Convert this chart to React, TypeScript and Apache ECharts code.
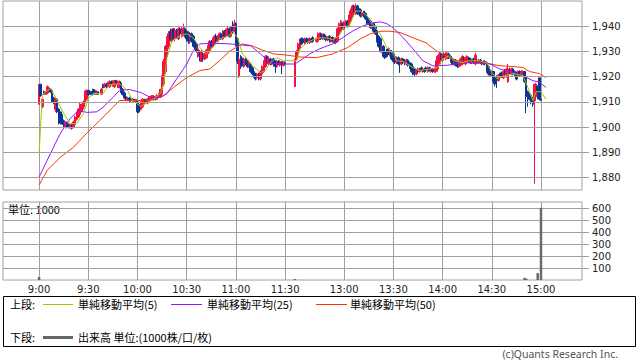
import React, { useEffect, useRef } from 'react';
import * as echarts from 'echarts';

// ---------- data ----------
const priceTicks = [1880, 1890, 1900, 1910, 1920, 1930, 1940];
const volumeTicks = [100, 200, 300, 400, 500, 600];
const timeTicks = ['9:00', '9:30', '10:00', '10:30', '11:00', '11:30', '13:00', '13:30', '14:00', '14:30', '15:00'];

// [time, open, close, low, high]
const candles: [string, number, number, number, number][] = [
  ['9:00', 1909, 1916, 1909, 1917], ['9:01', 1917, 1912.5, 1912, 1917], ['9:02', 1908, 1911, 1907.5, 1911],
  ['9:03', 1914, 1913, 1913, 1914.5], ['9:04', 1913, 1914, 1913, 1914], ['9:05', 1913.5, 1916, 1913, 1916.5],
  ['9:06', 1914, 1915.5, 1914, 1916], ['9:07', 1915, 1914, 1913.5, 1915.5], ['9:08', 1914.5, 1910, 1909.5, 1914.5],
  ['9:09', 1911.5, 1909.5, 1909, 1912], ['9:10', 1907, 1911, 1906, 1912], ['9:11', 1911, 1906, 1905.5, 1911.5],
  ['9:12', 1907, 1902, 1901, 1907.5], ['9:13', 1906, 1901.5, 1901, 1906], ['9:14', 1905, 1902, 1901, 1905.5],
  ['9:15', 1902.5, 1901, 1900, 1903], ['9:16', 1900, 1902, 1899.5, 1902], ['9:17', 1902, 1900, 1899.5, 1902],
  ['9:18', 1901, 1900, 1899.5, 1901.5], ['9:19', 1899.5, 1901, 1899.5, 1901], ['9:20', 1901, 1899.5, 1899, 1901],
  ['9:21', 1900, 1902, 1899.5, 1902.5], ['9:22', 1901, 1904, 1900, 1904.5], ['9:23', 1903, 1906, 1902.5, 1906],
  ['9:24', 1904, 1907, 1903.5, 1907.5], ['9:25', 1905, 1909, 1904.5, 1909.5], ['9:26', 1906, 1909, 1906, 1909],
  ['9:27', 1908, 1910, 1907, 1910.5], ['9:28', 1909.5, 1914, 1909, 1914.5], ['9:29', 1911, 1914.5, 1910.5, 1915],
  ['9:30', 1914.5, 1913, 1912.5, 1914.5], ['9:31', 1914, 1913, 1913, 1914.5], ['9:32', 1914, 1913, 1913, 1914],
  ['9:33', 1915, 1913, 1912.5, 1915], ['9:34', 1914.5, 1913, 1913, 1915], ['9:35', 1913, 1914, 1913, 1914.5],
  ['9:36', 1914, 1913, 1913, 1914], ['9:38', 1913, 1915, 1913, 1915.5], ['9:39', 1917, 1915.5, 1915.5, 1917],
  ['9:40', 1916, 1917, 1915.5, 1917.5], ['9:41', 1917, 1916, 1915.5, 1917.5], ['9:42', 1916, 1917.5, 1916, 1918],
  ['9:43', 1916, 1918, 1915.5, 1918.5], ['9:44', 1918, 1917, 1916.5, 1918.5], ['9:45', 1916.5, 1918, 1916, 1918.5],
  ['9:46', 1916, 1918.5, 1915.5, 1918.5], ['9:47', 1918.5, 1917, 1916.5, 1918.5], ['9:48', 1916, 1918, 1915.5, 1918.5],
  ['9:49', 1915.5, 1918, 1915.5, 1918.5], ['9:50', 1917.5, 1914, 1913.5, 1918], ['9:51', 1915, 1913, 1912.5, 1915.5],
  ['9:52', 1913.5, 1911.5, 1911, 1914], ['9:53', 1912, 1911, 1910.5, 1912.5], ['9:54', 1910.5, 1911.5, 1910.5, 1912],
  ['9:55', 1911.5, 1910.5, 1910, 1912], ['9:56', 1911, 1910.5, 1910, 1911.5], ['9:57', 1910.5, 1911, 1910, 1911.5],
  ['9:58', 1911, 1910, 1909.5, 1911], ['9:59', 1910, 1911, 1910, 1911], ['10:00', 1910, 1906, 1905.5, 1910],
  ['10:01', 1909, 1906, 1905.5, 1909.5], ['10:02', 1907, 1910, 1906.5, 1910.5], ['10:03', 1908, 1911, 1907.5, 1911.5],
  ['10:04', 1909, 1911, 1908.5, 1911], ['10:05', 1911, 1910, 1909.5, 1911], ['10:06', 1909.5, 1911, 1909, 1911.5],
  ['10:07', 1910, 1912, 1910, 1912], ['10:08', 1910.5, 1912, 1910.5, 1912.5], ['10:09', 1911, 1912.5, 1910.5, 1912.5],
  ['10:10', 1912, 1911, 1910.5, 1912], ['10:11', 1911, 1912, 1910.5, 1912.5], ['10:12', 1911, 1912.5, 1911, 1913],
  ['10:13', 1912, 1913, 1911.5, 1913.5], ['10:14', 1912, 1915, 1911.5, 1915], ['10:15', 1913, 1920, 1912.5, 1920.5],
  ['10:16', 1917, 1926, 1916, 1927], ['10:17', 1922, 1932, 1921, 1932.5], ['10:18', 1928, 1935, 1927, 1936],
  ['10:19', 1932, 1937, 1931, 1938], ['10:20', 1938, 1935, 1934, 1939], ['10:21', 1934, 1938, 1933.5, 1939],
  ['10:22', 1939, 1935, 1934.5, 1939], ['10:23', 1935, 1938.5, 1934, 1939], ['10:24', 1938.5, 1936, 1935, 1939],
  ['10:25', 1935, 1939, 1934.5, 1939.5], ['10:26', 1939, 1937, 1936, 1939.5], ['10:27', 1936, 1939, 1935.5, 1940],
  ['10:28', 1937, 1939, 1936, 1941], ['10:29', 1939, 1936, 1935.5, 1939.5], ['10:30', 1938, 1935, 1934, 1938.5],
  ['10:31', 1937.5, 1934, 1933, 1938], ['10:32', 1934, 1937, 1933, 1937.5], ['10:33', 1937, 1934, 1933.5, 1937.5],
  ['10:34', 1936, 1932, 1931.5, 1936.5], ['10:35', 1934, 1931, 1930.5, 1934.5], ['10:36', 1933, 1930, 1929.5, 1933],
  ['10:37', 1928, 1931, 1927.5, 1931.5], ['10:38', 1930, 1927, 1926, 1930.5], ['10:39', 1926, 1930, 1926, 1930.5],
  ['10:40', 1929, 1927, 1926, 1929.5], ['10:41', 1927, 1929, 1926.5, 1929.5], ['10:42', 1927.5, 1930.5, 1927, 1931],
  ['10:43', 1929, 1932, 1928.5, 1932.5], ['10:44', 1930, 1934, 1929.5, 1934.5], ['10:45', 1934, 1932, 1931.5, 1934.5],
  ['10:46', 1932, 1935, 1931.5, 1935.5], ['10:47', 1933, 1936, 1932.5, 1936.5], ['10:48', 1936, 1934, 1933.5, 1937],
  ['10:49', 1934, 1936, 1933.5, 1936.5], ['10:50', 1935, 1937, 1934.5, 1937.5], ['10:51', 1937, 1935, 1934.5, 1937.5],
  ['10:52', 1935, 1938, 1934.5, 1938.5], ['10:53', 1938, 1936, 1935.5, 1938.5], ['10:54', 1936, 1938, 1935.5, 1939],
  ['10:55', 1937, 1939, 1936, 1940], ['10:56', 1939, 1936, 1935.5, 1939.5], ['10:57', 1936, 1939, 1935.5, 1940],
  ['10:58', 1940, 1938, 1937, 1942], ['10:59', 1938, 1941, 1937.5, 1942.5], ['11:00', 1941, 1933, 1932, 1941.5],
  ['11:01', 1935, 1926, 1925, 1935.5], ['11:02', 1920, 1927, 1919.5, 1928], ['11:03', 1928, 1924, 1923, 1928.5],
  ['11:04', 1927, 1924.5, 1924, 1927.5], ['11:05', 1924, 1927, 1923.5, 1927.5], ['11:06', 1927, 1925, 1924.5, 1927.5],
  ['11:07', 1926, 1924, 1923.5, 1926.5], ['11:08', 1924, 1925.5, 1923.5, 1926], ['11:09', 1925, 1922, 1921.5, 1925.5],
  ['11:10', 1923.5, 1921, 1920.5, 1924], ['11:11', 1922, 1920, 1919.5, 1922.5], ['11:12', 1921, 1919, 1918.5, 1921.5],
  ['11:13', 1919.5, 1921, 1919, 1921.5], ['11:14', 1921, 1919, 1918.5, 1921.5], ['11:15', 1919, 1922, 1918.5, 1922.5],
  ['11:16', 1921, 1924, 1920.5, 1924.5], ['11:17', 1922, 1926, 1921.5, 1926.5], ['11:18', 1924, 1928, 1923.5, 1928.5],
  ['11:19', 1928, 1926, 1925.5, 1928.5], ['11:20', 1925, 1927, 1924.5, 1928], ['11:21', 1927, 1925, 1924.5, 1927.5],
  ['11:22', 1925, 1926.5, 1924.5, 1927], ['11:23', 1927, 1925, 1924, 1927.5], ['11:24', 1926, 1924, 1921.5, 1926.5],
  ['11:25', 1924, 1926, 1923.5, 1926.5], ['11:26', 1926, 1925, 1924.5, 1926.5], ['11:27', 1924.5, 1926, 1924, 1926.5],
  ['11:28', 1926, 1924.5, 1921, 1926], ['11:29', 1924.5, 1925.5, 1924, 1926], ['11:30', 1925.5, 1925, 1924.5, 1926],
  ['12:30', 1916, 1927, 1916, 1927], ['12:31', 1927, 1930, 1926.5, 1930.5], ['12:32', 1929, 1933, 1928.5, 1933.5],
  ['12:33', 1931, 1935, 1930.5, 1935], ['12:34', 1935, 1933, 1932.5, 1935.5], ['12:35', 1935, 1933.5, 1933, 1935.5],
  ['12:36', 1933, 1935, 1932.5, 1935.5], ['12:37', 1935, 1934, 1933.5, 1935.5], ['12:38', 1935, 1933.5, 1933, 1935],
  ['12:39', 1933.5, 1935, 1933, 1935.5], ['12:40', 1935, 1934, 1933.5, 1935.5], ['12:41', 1935.5, 1934, 1933.5, 1936],
  ['12:43', 1934, 1935, 1933.5, 1935.5], ['12:44', 1934, 1937, 1933.5, 1937.5], ['12:45', 1935, 1937, 1934.5, 1937.5],
  ['12:46', 1937, 1935, 1934.5, 1937.5], ['12:47', 1935, 1937, 1934.5, 1937], ['12:48', 1936.5, 1935, 1934.5, 1937],
  ['12:49', 1936, 1934.5, 1934, 1936.5], ['12:50', 1934.5, 1935.5, 1934, 1936], ['12:51', 1936, 1934.5, 1933.5, 1936.5],
  ['12:52', 1934, 1935.5, 1933.5, 1936], ['12:53', 1935.5, 1934, 1933.5, 1936], ['12:54', 1933.5, 1935, 1933, 1935.5],
  ['12:55', 1935, 1933.5, 1933, 1935.5], ['12:56', 1934, 1939, 1933.5, 1939.5], ['12:57', 1937, 1941, 1936.5, 1941.5],
  ['12:58', 1938, 1942, 1937.5, 1942.5], ['12:59', 1941, 1939.5, 1939, 1941.5], ['13:00', 1939, 1941.5, 1938.5, 1942],
  ['13:01', 1940, 1942, 1939.5, 1942.5], ['13:02', 1942, 1940, 1939.5, 1942.5], ['13:03', 1940, 1944, 1939.5, 1944.5],
  ['13:04', 1942, 1946, 1941.5, 1947], ['13:05', 1944, 1948, 1943.5, 1948.5], ['13:06', 1948, 1946, 1945.5, 1948.5],
  ['13:07', 1945, 1948, 1944.5, 1949], ['13:08', 1948, 1945, 1944.5, 1948.5], ['13:09', 1947, 1945, 1944.5, 1947.5],
  ['13:10', 1946.5, 1944, 1943.5, 1947], ['13:11', 1944, 1945.5, 1943.5, 1946], ['13:12', 1946, 1944, 1943.5, 1946],
  ['13:13', 1945, 1943, 1942.5, 1945.5], ['13:14', 1944, 1941, 1940.5, 1944.5], ['13:15', 1943, 1941, 1940.5, 1943.5],
  ['13:16', 1942, 1939.5, 1939, 1942.5], ['13:17', 1939.5, 1941, 1939, 1941.5], ['13:18', 1941, 1938, 1937.5, 1941.5],
  ['13:19', 1940, 1937, 1936.5, 1940], ['13:20', 1938, 1934, 1933.5, 1938.5], ['13:21', 1936, 1932, 1931.5, 1936.5],
  ['13:22', 1935, 1930, 1929.5, 1935.5], ['13:23', 1930, 1932, 1929.5, 1932.5], ['13:24', 1932, 1928, 1927.5, 1932.5],
  ['13:25', 1930, 1927.5, 1927, 1930.5], ['13:26', 1930, 1928, 1927.5, 1931], ['13:27', 1931, 1929, 1928.5, 1931.5],
  ['13:28', 1928.5, 1930.5, 1928, 1931], ['13:29', 1930, 1927, 1926.5, 1930.5], ['13:30', 1929, 1926, 1925.5, 1929.5],
  ['13:31', 1928, 1926, 1925, 1928.5], ['13:32', 1925.5, 1927.5, 1925, 1928], ['13:33', 1927.5, 1925, 1924.5, 1928],
  ['13:34', 1927, 1925, 1921.5, 1927], ['13:35', 1925, 1927, 1924.5, 1927.5], ['13:36', 1927, 1925.5, 1925, 1927.5],
  ['13:37', 1926.5, 1925, 1924.5, 1927], ['13:38', 1925, 1926.5, 1924.5, 1927], ['13:39', 1926.5, 1924.5, 1924, 1927],
  ['13:40', 1925.5, 1923.5, 1923, 1926], ['13:41', 1925, 1922, 1921.5, 1925.5], ['13:42', 1924, 1921, 1920.5, 1924.5],
  ['13:43', 1923, 1921, 1920, 1923.5], ['13:44', 1921, 1922.5, 1920.5, 1923], ['13:45', 1923, 1922, 1921.5, 1923.5],
  ['13:46', 1922, 1923, 1921.5, 1923.5], ['13:47', 1923.5, 1922.5, 1922, 1924], ['13:48', 1922, 1923, 1921.5, 1923.5],
  ['13:49', 1923, 1922, 1921.5, 1923.5], ['13:50', 1923.5, 1922.5, 1922, 1924], ['13:51', 1922, 1923.5, 1921.5, 1924],
  ['13:52', 1923.5, 1922.5, 1922, 1924], ['13:53', 1922, 1923, 1921.5, 1923.5], ['13:54', 1923, 1922, 1921.5, 1923.5],
  ['13:55', 1922, 1923, 1921.5, 1923.5], ['13:56', 1922, 1926, 1921.5, 1926.5], ['13:57', 1923, 1928, 1922, 1928.5],
  ['13:58', 1925, 1929, 1924.5, 1929.5], ['13:59', 1929, 1927, 1926.5, 1929.5], ['14:00', 1926.5, 1928.5, 1926, 1929],
  ['14:01', 1929, 1927.5, 1927, 1929.5], ['14:02', 1927, 1929.5, 1926.5, 1930], ['14:03', 1927.5, 1929, 1927, 1929.5],
  ['14:04', 1929, 1927.5, 1927, 1929.5], ['14:05', 1928, 1926, 1925.5, 1928.5], ['14:06', 1927, 1925, 1924.5, 1927.5],
  ['14:07', 1925, 1926.5, 1924.5, 1927], ['14:08', 1926.5, 1924.5, 1924, 1927], ['14:09', 1926, 1924, 1923.5, 1926.5],
  ['14:10', 1924, 1925.5, 1923.5, 1926], ['14:11', 1924.5, 1927, 1924, 1927.5], ['14:12', 1925, 1928, 1924.5, 1928.5],
  ['14:13', 1927.5, 1926, 1925.5, 1928], ['14:14', 1925, 1927.5, 1924.5, 1928], ['14:15', 1925.5, 1928, 1925, 1928.5],
  ['14:16', 1927.5, 1926, 1925.5, 1928], ['14:17', 1927, 1925.5, 1925, 1927.5], ['14:18', 1925.5, 1926.5, 1925, 1927],
  ['14:19', 1927, 1925.5, 1925, 1927.5], ['14:20', 1925, 1928.5, 1924.5, 1929.5], ['14:21', 1926.5, 1925.5, 1925, 1927],
  ['14:22', 1925.5, 1926.5, 1925, 1927], ['14:23', 1926.5, 1925.5, 1925, 1927], ['14:24', 1926, 1925, 1924.5, 1926.5],
  ['14:25', 1925, 1926, 1924.5, 1926.5], ['14:26', 1926, 1925, 1924.5, 1926.5], ['14:27', 1925.5, 1922, 1921.5, 1926],
  ['14:28', 1924, 1921, 1920.5, 1924.5], ['14:29', 1922.5, 1920.5, 1920, 1923], ['14:30', 1920.5, 1922, 1920, 1922.5],
  ['14:31', 1922, 1918, 1917, 1922], ['14:32', 1920, 1917, 1916, 1920.5], ['14:33', 1920, 1918.5, 1915.5, 1920.5],
  ['14:34', 1918.5, 1920.5, 1918, 1921], ['14:35', 1921, 1919.5, 1919, 1921.5], ['14:36', 1921.5, 1920, 1919.5, 1922],
  ['14:37', 1919.5, 1922, 1919, 1922.5], ['14:38', 1922.5, 1921, 1920.5, 1923], ['14:39', 1920, 1923, 1919.5, 1923.5],
  ['14:40', 1918, 1923, 1917.5, 1925], ['14:41', 1923, 1921.5, 1921, 1923.5], ['14:42', 1921, 1923, 1920.5, 1923.5],
  ['14:43', 1923, 1921, 1920.5, 1923.5], ['14:44', 1922, 1920.5, 1920, 1922.5], ['14:45', 1921.5, 1919, 1918.5, 1922],
  ['14:46', 1920, 1922, 1919.5, 1922.5], ['14:47', 1922, 1920.5, 1920, 1922.5], ['14:48', 1920.5, 1922, 1920, 1922.5],
  ['14:49', 1921, 1922, 1920.5, 1922.5], ['14:50', 1922, 1918, 1917.5, 1922], ['14:51', 1920, 1912, 1905.5, 1920],
  ['14:52', 1914, 1912, 1908, 1914.5], ['14:53', 1913, 1911, 1910.5, 1913.5], ['14:54', 1912.5, 1910, 1909, 1913],
  ['14:55', 1911.5, 1909, 1908, 1912], ['14:56', 1910.5, 1917, 1877.5, 1917], ['14:57', 1912, 1917, 1911, 1917.5],
  ['14:58', 1916, 1914, 1911, 1916.5], ['14:59', 1919.5, 1911, 1910.5, 1919.5], ['15:00', 1911, 1910.5, 1910.5, 1911],
];

// [time, volume (x1000)]
const volumes: [string, number][] = [
  ['9:00', 25], ['12:30', 8], ['14:50', 18], ['14:51', 12], ['14:58', 58], ['15:00', 602],
];

const ma5Times = ['9:00', '9:02', '9:07', '9:11', '9:15', '9:19', '9:23', '9:27', '9:30', '9:33', '9:39', '9:43', '9:49', '9:54', '9:57', '10:02', '10:06', '10:10', '10:14', '10:16', '10:18', '10:21', '10:26', '10:30', '10:34', '10:38', '10:42', '10:46', '10:50', '10:56', '10:58', '11:01', '11:04', '11:07', '11:10', '11:15', '11:18', '11:21', '11:25', '11:29', '12:31', '12:33', '12:37', '12:41', '12:45', '12:50', '12:53', '12:57', '13:00', '13:03', '13:07', '13:10', '13:14', '13:17', '13:22', '13:26', '13:30', '13:32', '13:36', '13:42', '13:46', '13:52', '13:57', '14:00', '14:04', '14:07', '14:12', '14:16', '14:22', '14:27', '14:30', '14:33', '14:38', '14:43', '14:49', '14:52', '14:55', '14:57', '15:00', '15:03'];
const ma5Values = [1889.6, 1913, 1915.3, 1910.5, 1905.4, 1901.4, 1901.4, 1905.4, 1911.3, 1913.3, 1913.3, 1916.8, 1917.2, 1914.5, 1910.5, 1908.2, 1909.7, 1911.3, 1913.3, 1917.2, 1927.5, 1934.2, 1936.2, 1937, 1935.4, 1931.5, 1929, 1931.5, 1935, 1936.2, 1938, 1935.4, 1929, 1927, 1924.3, 1921.6, 1922.4, 1925.5, 1927.5, 1926.3, 1926.3, 1931, 1933.4, 1934.6, 1935.4, 1935.3, 1934.6, 1936.2, 1940, 1940, 1946, 1946, 1944, 1941, 1937, 1931.5, 1929, 1926.3, 1926, 1923.6, 1922.4, 1923, 1923.6, 1927, 1928.3, 1926.3, 1925.5, 1926.3, 1926.3, 1925.5, 1921.6, 1919.2, 1920.4, 1921.2, 1920.4, 1915.7, 1910.5, 1914, 1914, 1911];

const ma25Times = ['9:00', '9:07', '9:13', '9:19', '9:24', '9:29', '9:35', '9:39', '9:45', '9:49', '9:55', '10:02', '10:08', '10:14', '10:18', '10:24', '10:30', '10:34', '10:38', '10:46', '10:56', '11:09', '11:15', '11:21', '11:27', '12:30', '12:33', '12:39', '12:45', '12:53', '12:59', '13:05', '13:11', '13:17', '13:22', '13:26', '13:30', '13:36', '13:42', '13:48', '13:54', '14:03', '14:12', '14:22', '14:29', '14:35', '14:43', '14:49', '14:55', '14:59', '15:03'];
const ma25Values = [1880.1, 1889.6, 1897.5, 1903.4, 1906.6, 1905.8, 1906, 1907.8, 1911.7, 1914.5, 1914.9, 1913.7, 1911.7, 1911.7, 1913.3, 1919.2, 1925, 1930.3, 1933, 1933.2, 1933, 1932.2, 1929, 1925.5, 1925, 1925, 1926.3, 1929, 1931, 1933, 1935.4, 1938, 1940, 1941.3, 1941.7, 1941, 1939.3, 1935.4, 1931, 1926.3, 1924.3, 1924.5, 1925.5, 1925.5, 1925, 1923, 1921.6, 1920.4, 1918.4, 1917.8, 1915.7];

const ma50Times = ['9:00', '9:05', '9:13', '9:21', '9:29', '9:37', '9:45', '9:49', '10:00', '10:08', '10:16', '10:22', '10:30', '10:38', '10:44', '10:50', '10:56', '11:04', '11:10', '11:17', '11:23', '11:30', '12:33', '12:43', '12:53', '13:02', '13:10', '13:16', '13:22', '13:28', '13:34', '13:42', '13:50', '13:56', '14:03', '14:09', '14:16', '14:27', '14:35', '14:43', '14:49', '14:53', '14:59', '15:03'];
const ma50Values = [1877, 1882.9, 1888, 1892, 1897.5, 1902.6, 1907.8, 1910.5, 1910.5, 1910.7, 1912.5, 1915.7, 1919.6, 1922.4, 1923, 1926.3, 1930, 1933, 1932.2, 1930.3, 1929, 1928.6, 1927.8, 1927.5, 1929, 1931.5, 1935, 1937, 1938, 1938, 1937.5, 1935.4, 1933.4, 1930.3, 1927.8, 1926.3, 1925.5, 1925.3, 1924.3, 1924, 1923.6, 1922, 1921.2, 1919.6];

// ---------- axis slots (one per minute, session-aware) ----------
const fmt = (t: number) => `${Math.floor(t / 60)}:${String(t % 60).padStart(2, '0')}`;
const slots: string[] = [];
for (let t = 8 * 60 + 38; t <= 11 * 60 + 35; t++) slots.push(fmt(t));
for (let t = 12 * 60 + 30; t <= 15 * 60 + 25; t++) slots.push(fmt(t));
const slotIndex = new Map<string, number>();
slots.forEach((s, i) => slotIndex.set(s, i));
const tickSet = new Set(timeTicks);

const UP = '#f5103f';
const DOWN = '#0a3596';
const GRID = '#a0a0a0';
const MA5C = '#99cc00';
const MA25C = '#9911ff';
const MA50C = '#ff3300';
const VOLC = '#6a6a6a';
const NUMFONT = 'DejaVu Sans';
const JPFONT = 'Noto Sans CJK JP';

const fmtPrice = (v: number) => `${Math.floor(v / 1000)},${String(v % 1000).padStart(3, '0')}`;

export default function App() {
  const ref = useRef<HTMLDivElement>(null);
  useEffect(() => {
    if (!ref.current) return;
    const chart = echarts.init(ref.current, undefined, { renderer: 'svg' });

    const candleData = candles.map(([t, o, c, l, h]) => [slotIndex.get(t), o, c, l, h]);
    const volData = volumes.map(([t, v]) => [slotIndex.get(t), v]);
    const line = (times: string[], vals: number[]) => times.map((t, i) => [slotIndex.get(t), vals[i]]);

    const textStyle = (x: number, y: number, text: string, extra: any = {}) => ({
      type: 'text', x, y, silent: true,
      style: { text, fill: '#000', font: `11px "${JPFONT}"`, textVerticalAlign: 'middle', verticalAlign: 'middle', ...extra },
    });
    const seg = (x1: number, x2: number, y: number, color: string, w = 1) => ({
      type: 'line', silent: true, shape: { x1, y1: y, x2, y2: y }, style: { stroke: color, lineWidth: w },
    });

    const option: any = {
      animation: false,
      backgroundColor: '#ffffff',
      grid: [
        { left: 3, top: 1, width: 579, height: 189, show: true, borderColor: GRID, borderWidth: 1, backgroundColor: 'transparent' },
        { left: 3, top: 202, width: 579, height: 78, show: true, borderColor: GRID, borderWidth: 1, backgroundColor: 'transparent' },
      ],
      xAxis: [0, 1].map((g) => ({
        type: 'category', gridIndex: g, data: slots, boundaryGap: false,
        axisLine: { show: false }, axisTick: { show: false },
        axisLabel: {
          show: g === 1, interval: (_i: number, v: string) => tickSet.has(v), margin: 4,
          color: '#222', fontSize: 10, fontFamily: NUMFONT,
        },
        splitLine: { show: true, interval: (_i: number, v: string) => tickSet.has(v), lineStyle: { color: GRID, width: 1 } },
      })),
      yAxis: [
        {
          type: 'value', gridIndex: 0, position: 'right', min: 1875, max: 1950, scale: true,
          axisLine: { show: false },
          axisTick: { show: true, length: 7, customValues: priceTicks, lineStyle: { color: GRID } },
          axisLabel: { customValues: priceTicks, margin: 10, color: '#222', fontSize: 10, fontFamily: NUMFONT, formatter: (v: number) => fmtPrice(v) },
          splitLine: { show: false },
        },
        {
          type: 'value', gridIndex: 1, position: 'right', min: 0, max: 650, interval: 100,
          axisLine: { show: false },
          axisTick: { show: true, length: 7, customValues: volumeTicks, lineStyle: { color: GRID } },
          axisLabel: { customValues: volumeTicks, margin: 10, color: '#222', fontSize: 10, fontFamily: NUMFONT, formatter: (v: number) => (v > 0 && v <= 600 ? String(v) : '') },
          splitLine: { show: true, lineStyle: { color: GRID, width: 1 } },
        },
      ],
      series: [
        {
          type: 'line', xAxisIndex: 0, yAxisIndex: 0, data: [], silent: true, z: 1,
          markLine: {
            silent: true, symbol: ['none', 'none'], label: { show: false }, animation: false,
            lineStyle: { color: GRID, width: 1, type: 'solid' },
            data: priceTicks.map((v) => ({ yAxis: v })),
          },
        },
        {
          type: 'candlestick', xAxisIndex: 0, yAxisIndex: 0, data: candleData, barWidth: 2, z: 3,
          encode: { x: 0, y: [1, 2, 3, 4] },
          itemStyle: { color: UP, color0: DOWN, borderColor: UP, borderColor0: DOWN, borderWidth: 1 },
        },
        { type: 'line', xAxisIndex: 0, yAxisIndex: 0, data: line(ma50Times, ma50Values), showSymbol: false, symbol: 'none', z: 4, lineStyle: { color: MA50C, width: 1 } },
        { type: 'line', xAxisIndex: 0, yAxisIndex: 0, data: line(ma25Times, ma25Values), showSymbol: false, symbol: 'none', z: 4, lineStyle: { color: MA25C, width: 1 } },
        { type: 'line', xAxisIndex: 0, yAxisIndex: 0, data: line(ma5Times, ma5Values), showSymbol: false, symbol: 'none', z: 5, lineStyle: { color: MA5C, width: 1 } },
        { type: 'bar', xAxisIndex: 1, yAxisIndex: 1, data: volData, barWidth: 2.5, itemStyle: { color: VOLC }, z: 3 },
      ],
      graphic: [
        textStyle(8, 209, '単位: 1000'),
        { type: 'rect', silent: true, shape: { x: 3.5, y: 296.5, width: 632, height: 50 }, style: { fill: 'none', stroke: '#000', lineWidth: 1 } },
        textStyle(10, 304, '上段:'),
        seg(43, 73, 304.5, MA5C),
        textStyle(78, 304, '単純移動平均(5)'),
        seg(171, 202, 304.5, MA25C),
        textStyle(207, 304, '単純移動平均(25)'),
        seg(316, 347, 304.5, MA50C),
        textStyle(350, 304, '単純移動平均(50)'),
        textStyle(10, 337, '下段:'),
        seg(43, 73, 337.5, '#666666', 3),
        textStyle(78, 337, '出来高 単位:(1000株/口/枚)'),
        textStyle(618, 354, '(c)Quants Research Inc.', { textAlign: 'right', align: 'right', fill: '#555', font: `10.5px "Noto Sans"` }),
      ],
    };
    chart.setOption(option);
    return () => chart.dispose();
  }, []);
  return <div ref={ref} style={{ position: 'fixed', left: 0, top: 0, width: 638, height: 362, background: '#fff' }} />;
}
